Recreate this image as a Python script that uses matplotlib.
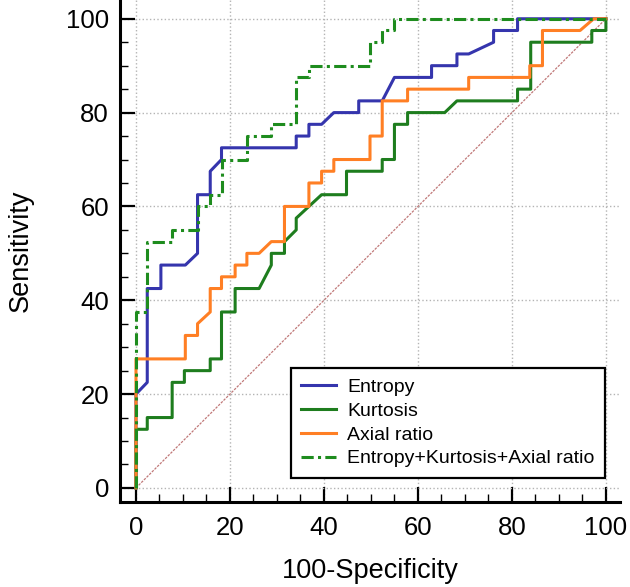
import matplotlib
matplotlib.use("Agg")
import matplotlib.pyplot as plt
from matplotlib.ticker import MultipleLocator

plt.rcParams["font.family"] = ["Liberation Sans", "DejaVu Sans"]

# ROC curves (100-Specificity, Sensitivity)
entropy_x = [0, 0, 2.4, 2.4, 5.3, 5.3, 10.5, 13.1, 13.1, 15.8, 15.8, 18.2, 18.2,
             34.1, 34.1, 36.8, 36.8, 39.5, 42.1, 47.4, 47.4, 52.4, 55.0, 62.9,
             62.9, 68.3, 68.3, 70.8, 76.1, 76.1, 81.2, 81.2, 100]
entropy_y = [0, 20, 22.5, 42.5, 42.5, 47.5, 47.5, 50, 62.5, 62.5, 67.5, 70, 72.5,
             72.5, 75, 75, 77.5, 77.5, 80, 80, 82.5, 82.5, 87.5, 87.5,
             90, 90, 92.5, 92.5, 95, 97.5, 97.5, 100, 100]

kurtosis_x = [0, 0, 2.4, 2.4, 7.7, 7.7, 10.3, 10.3, 15.8, 15.8, 18.2, 18.2,
              21.1, 21.1, 26.2, 28.8, 28.8, 31.6, 31.6, 34.1, 34.1, 36.8, 39.5,
              44.8, 44.8, 52.4, 52.4, 55.0, 55.0, 57.8, 57.8, 65.7, 68.3, 81.2,
              81.2, 84.0, 84.0, 97.0, 97.0, 100, 100]
kurtosis_y = [0, 12.5, 12.5, 15, 15, 22.5, 22.5, 25, 25, 27.5, 27.5, 37.5,
              37.5, 42.5, 42.5, 47.5, 50, 50, 52.5, 55, 57.5, 60, 62.5,
              62.5, 67.5, 67.5, 70, 70, 77.5, 77.5, 80, 80, 82.5, 82.5,
              85, 85, 95, 95, 97.5, 97.5, 100]

axial_x = [0, 0, 10.5, 10.5, 13.1, 13.1, 15.8, 15.8, 18.2, 18.2, 21.1, 21.1,
           23.6, 23.6, 26.2, 28.8, 31.6, 31.6, 36.8, 36.8, 39.5, 39.5, 42.1,
           42.1, 49.8, 49.8, 52.4, 52.4, 57.8, 57.8, 70.8, 70.8, 83.8, 83.8,
           86.5, 86.5, 94.5, 97.4, 100]
axial_y = [0, 27.5, 27.5, 32.5, 32.5, 35, 37.5, 42.5, 42.5, 45, 45, 47.5,
           47.5, 50, 50, 52.5, 52.5, 60, 60, 65, 65, 67.5, 67.5,
           70, 70, 75, 75, 82.5, 82.5, 85, 85, 87.5, 87.5, 90,
           90, 97.5, 97.5, 100, 100]

combined_x = [0, 0, 2.4, 2.4, 7.7, 7.7, 13.1, 13.1, 15.8, 15.8, 18.2, 18.2,
              23.6, 23.6, 28.8, 28.8, 34.1, 34.1, 36.8, 36.8, 49.8, 49.8,
              52.4, 52.4, 55.0, 55.0, 100]
combined_y = [0, 37.5, 37.5, 52.5, 52.5, 55, 55, 60, 60, 62.5, 62.5, 70,
              70, 75, 75, 77.5, 77.5, 87.5, 87.5, 90, 90, 95,
              95, 97.5, 97.5, 100, 100]

labels = ["Entropy", "Kurtosis", "Axial ratio", "Entropy+Kurtosis+Axial ratio"]

fig = plt.figure(figsize=(6.3, 5.87), dpi=100)
ax = fig.add_axes([120 / 630, 85 / 587, 500 / 630, 502 / 587])

# chance line
ax.plot([0, 100], [0, 100], color="#c07878", lw=0.9, linestyle=(0, (2, 1)), zorder=2)

ax.plot(entropy_x, entropy_y, color="#3535ad", lw=2.2, label=labels[0], zorder=3)
ax.plot(kurtosis_x, kurtosis_y, color="#1e7d1e", lw=2.2, label=labels[1], zorder=3)
ax.plot(axial_x, axial_y, color="#ff7f24", lw=2.2, label=labels[2], zorder=3)
ax.plot(combined_x, combined_y, color="#1e8c1e", lw=2.2, label=labels[3],
        dashes=[4, 1.4, 1, 1.4], zorder=4)

ax.set_xlim(-3.4, 103)
ax.set_ylim(-3, 104)
ax.xaxis.set_minor_locator(MultipleLocator(5))
ax.yaxis.set_minor_locator(MultipleLocator(5))
ax.set_xticks([0, 20, 40, 60, 80, 100])
ax.set_yticks([0, 20, 40, 60, 80, 100])

ax.grid(True, which="major", color="#b4b4b4", linestyle=":", lw=1.0)
ax.set_axisbelow(True)

for side in ["top", "right"]:
    ax.spines[side].set_visible(False)
for side in ["left", "bottom"]:
    ax.spines[side].set_linewidth(2.2)

ax.tick_params(which="major", direction="in", length=11, width=1.6, labelsize=18.5)
ax.tick_params(which="minor", direction="in", length=5.5, width=1.0)
ax.tick_params(axis="x", which="major", pad=10)
ax.tick_params(axis="y", which="major", pad=8)

ax.set_xlabel("100-Specificity", fontsize=19.5, labelpad=13)
ax.set_ylabel("Sensitivity", fontsize=19.5, labelpad=23)

leg = ax.legend(loc="lower right", bbox_to_anchor=(99.8, 2.1),
                bbox_transform=ax.transData, borderaxespad=0, fontsize=14,
                fancybox=False, framealpha=1, edgecolor="black",
                handlelength=1.8, handletextpad=0.55, labelspacing=0.32,
                borderpad=0.55)
leg.get_frame().set_linewidth(1.6)

fig.savefig("out.png", dpi=100)
